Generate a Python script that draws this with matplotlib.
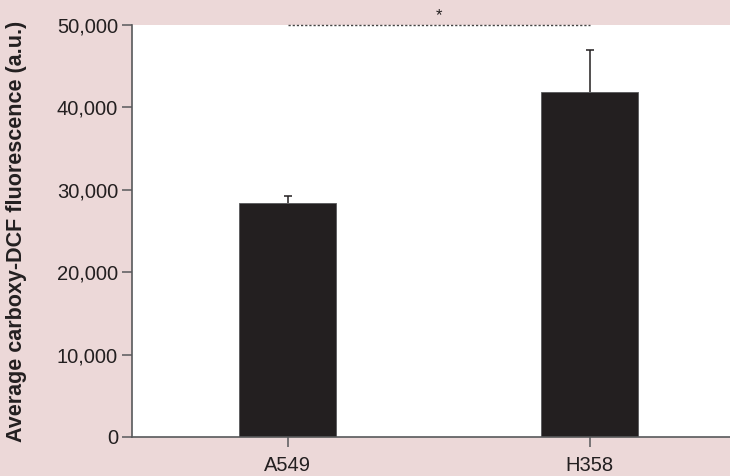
#!/usr/bin/env python3

import numpy as np
import matplotlib
matplotlib.use("Agg")
import matplotlib.pyplot as plt

plt.rcParams['font.family'] = ['Liberation Sans', 'DejaVu Sans']

# data
cell_lines = ["A549", "H358"]
mean_fluorescence = [28400, 41900]
sem_fluorescence = [850, 5100]
y_ticks = [0, 10000, 20000, 30000, 40000, 50000]
sig_pair = (0, 1)
sig_label = "*"

BG = "#ecd8d8"
BAR = "#231f20"
AXIS = "#58595b"
TEXT = "#231f20"

fig = plt.figure(figsize=(7.3, 4.76), dpi=100, facecolor=BG)
ax = fig.add_axes([132/730, 39/476, 598/730, 412/476])
ax.set_facecolor("white")

x = np.arange(len(cell_lines))
ax.bar(x, mean_fluorescence, width=0.32, color=BAR, edgecolor=AXIS,
       linewidth=0.6, zorder=2)
eb = ax.errorbar(x, mean_fluorescence,
                 yerr=[np.zeros(len(x)), sem_fluorescence],
                 fmt="none", ecolor=BAR, elinewidth=1.1, capsize=2.6,
                 capthick=1.1, zorder=1)
# only the upper cap is visible in the figure
eb[1][0].set_visible(False)

# significance line along the top
top = y_ticks[-1]
ax.plot([x[sig_pair[0]], x[sig_pair[1]]], [top, top], color="#444444",
        linestyle=(0, (1.6, 1.4)), linewidth=1.0, clip_on=False, zorder=3)
ax.text((x[sig_pair[0]] + x[sig_pair[1]]) / 2, top + 1100, sig_label,
        ha="center", va="center", fontsize=12, color=TEXT, clip_on=False)

ax.set_xlim(-0.515, 1.465)
ax.set_ylim(0, 50000)
ax.set_xticks(x)
ax.set_xticklabels(cell_lines)
ax.set_yticks(y_ticks)
ax.set_yticklabels([f"{v:,}" for v in y_ticks])

for side in ("top", "right"):
    ax.spines[side].set_visible(False)
for side in ("left", "bottom"):
    ax.spines[side].set_color(AXIS)
    ax.spines[side].set_linewidth(1.2)

ax.tick_params(axis="both", length=7, width=1.1, color=AXIS,
               labelsize=14.5, labelcolor=TEXT, pad=3)
ax.tick_params(axis="x", pad=7)

ax.set_ylabel("Average carboxy-DCF fluorescence (a.u.)", fontsize=15.5,
              fontweight="bold", color=TEXT)
ax.yaxis.set_label_coords(-(132 - 27) / 598, 0.5)

fig.savefig("out.png", dpi=100, facecolor=BG)
